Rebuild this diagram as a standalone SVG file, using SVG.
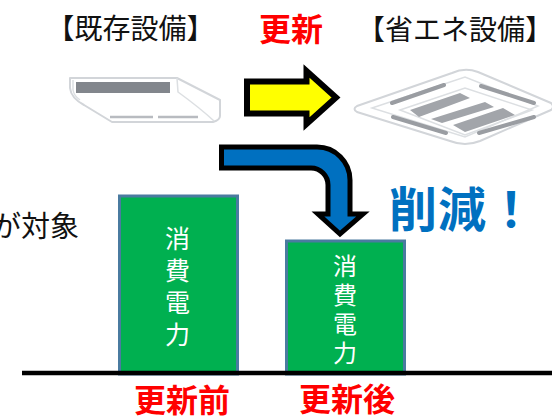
<svg xmlns="http://www.w3.org/2000/svg" width="552" height="416" viewBox="0 0 552 416">
<defs><filter id="soft" x="-5%" y="-5%" width="110%" height="110%"><feGaussianBlur stdDeviation="0.5"/></filter></defs>
<style>
text{font-family:"Noto Sans CJK JP","Noto Sans CJK SC",sans-serif}
.t{font-size:28px;fill:#111;text-anchor:middle}
.r{font-size:32px;font-weight:700;fill:#f00;text-anchor:middle}
.v{fill:#fff;writing-mode:vertical-rl;font-weight:400}
.bar{fill:#00b050;stroke:#4a7ba0;stroke-width:3}
.ac{fill:#fff;stroke:#d2d5d9;stroke-width:2;stroke-linejoin:round}
.line{fill:none;stroke:#dcdfe2;stroke-width:1.5}
.slat{fill:none;stroke:#9a9da2;stroke-width:4;stroke-linecap:round}
.grill{fill:#a2a5aa}
</style>
<rect width="552" height="416" fill="#fff"/>
<text class="t" x="130.500" y="39">【既存設備】</text>
<text class="r" x="291" y="41">更新</text>
<text class="t" x="455" y="40">【省エネ設備】</text>
<text x="79" y="237" style="font-size:29px;fill:#111;text-anchor:end">が対象</text>
<g id="ac-old" filter="url(#soft)">
<path class="ac" d="M70 78H177L220 100V116Q220 120 213 122H112L84 105Q71 98 70 88Z"/>
<path class="line" d="M177 78L178 92Q200 108 214 121"/>
<path class="line" d="M73 80V90Q74 96 80 100"/>
<rect x="76" y="82" width="94" height="11" fill="#82868c"/>
<path d="M110 117H153M158 117H198" stroke="#b8bbc0" stroke-width="2.500"/>
</g>
<g id="ac-new" filter="url(#soft)">
<path class="ac" d="M357 106L452 73Q465 67 478 72L551 103Q555 107 551 110L480 141Q465 147 450 141L357 112Q352 109 357 106Z"/>
<path class="line" d="M372 108L465 77L538 106L465 137Z"/>
<path class="line" d="M400 110L465 88L532 110L465 135Z"/>
<path class="slat" d="M392 103L444 85M481 86L534 103M393 117L446 133M479 133L534 117"/>
<path class="grill" d="M410 110L460 93L470 98L419 117Z M431 119L485 102L494 107L442 123Z M453 125L503 108L515 115L465 132Z"/>
</g>
<g id="connectors">
<path d="M247 81.500H306.500V71L336 97.500L306.500 124V113.500H247Z" fill="#ff0" stroke="#000" stroke-width="6"/>
<path d="M221.500 147H317A33 33 0 0 1 350 180V214H363L340 234L318 214H328V185A17 17 0 0 0 311 168H221.500Z" fill="#0070c0" stroke="#000" stroke-width="5"/>
</g>
<text x="389" y="227" style="font-size:48px;font-weight:700;fill:#0070c0;letter-spacing:1px">削減！</text>
<g id="bar-before">
<rect class="bar" x="119.500" y="196" width="118" height="178"/>
<text class="v" x="177.500" y="226" style="font-size:25px;letter-spacing:7px">消費電力</text>
</g>
<g id="bar-after">
<rect class="bar" x="286.500" y="241" width="118" height="133"/>
<text class="v" x="345" y="254" style="font-size:24px;letter-spacing:5px">消費電力</text>
</g>
<path id="baseline" d="M22 373H552" stroke="#000" stroke-width="4.500"/>
<text class="r" x="182" y="412">更新前</text>
<text class="r" x="347" y="411">更新後</text>
</svg>
